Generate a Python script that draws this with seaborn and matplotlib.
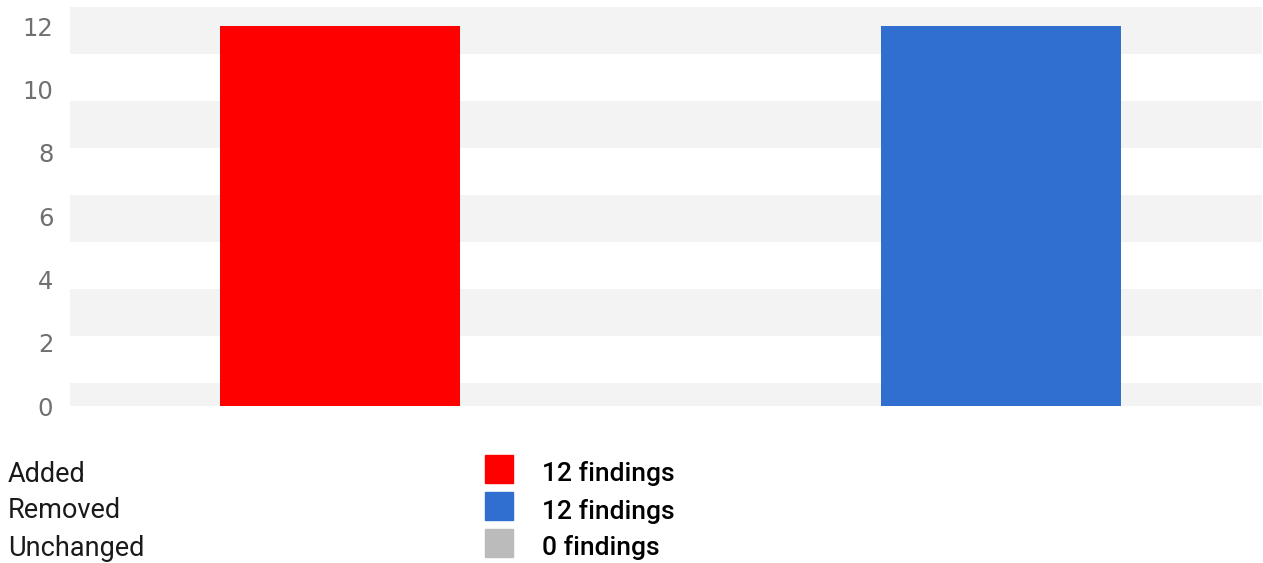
import numpy as np
import pandas as pd
import matplotlib
matplotlib.use('Agg')
import matplotlib.pyplot as plt
import matplotlib.patches as mpatches
import seaborn as sns

# Data
categories = ['Added', 'Removed', 'Unchanged']
counts = [12, 12, 0]
colors = ['#ff0000', '#306ecf', '#bbbbbb']
y_ticks = [0, 2, 4, 6, 8, 10, 12]

df = pd.DataFrame({'category': categories, 'count': counts})

sns.set_style('white')
plt.rcParams['font.family'] = ['DejaVu Sans']

W, H = 1263, 563
fig = plt.figure(figsize=(W / 100, H / 100), dpi=100)
ax = fig.add_axes([70 / W, 1 - 406 / H, (1262 - 70) / W, (406 - 7) / H])

# striped background (gray bands from the top)
ymax = 12.6
period = ymax / 8.5
for k in range(5):
    top = ymax - 2 * k * period
    bot = max(top - period, 0)
    ax.axhspan(bot, top, color='#f3f3f3', lw=0, zorder=0)

sns.barplot(data=df, x='category', y='count', hue='category',
            palette=dict(zip(categories, colors)), order=categories,
            width=0.3625, legend=False, ax=ax, zorder=2,
            edgecolor='none', saturation=1)

ax.set_xlim(-0.408, 1.394)
ax.set_ylim(0, ymax)
ax.set_yticks(y_ticks)
ax.set_yticklabels([str(t) for t in y_ticks])
ax.set_xticks([])
ax.set_xlabel('')
ax.set_ylabel('')
ax.tick_params(axis='y', length=0, pad=12, labelsize=17.5, labelcolor='#707070')
for s in ax.spines.values():
    s.set_visible(False)

# legend below the chart
rows_y = [474, 511, 548]
for cat, n, c, yp in zip(categories, counts, colors, rows_y):
    fig.text(8 / W, 1 - yp / H, cat, ha='left', va='center',
             fontsize=19.5, color='#1a1a1a', family=['Roboto', 'DejaVu Sans'])
    fig.patches.append(mpatches.Rectangle((485 / W, 1 - (yp + 9) / H),
                                          28 / W, 28 / H, color=c,
                                          transform=fig.transFigure, figure=fig))
    fig.text(542 / W, 1 - yp / H, f'{n} findings', ha='left', va='center',
             fontsize=19, fontweight='medium', color='#000000',
             family=['Roboto', 'DejaVu Sans'])

plt.savefig('out.png', dpi=100)
